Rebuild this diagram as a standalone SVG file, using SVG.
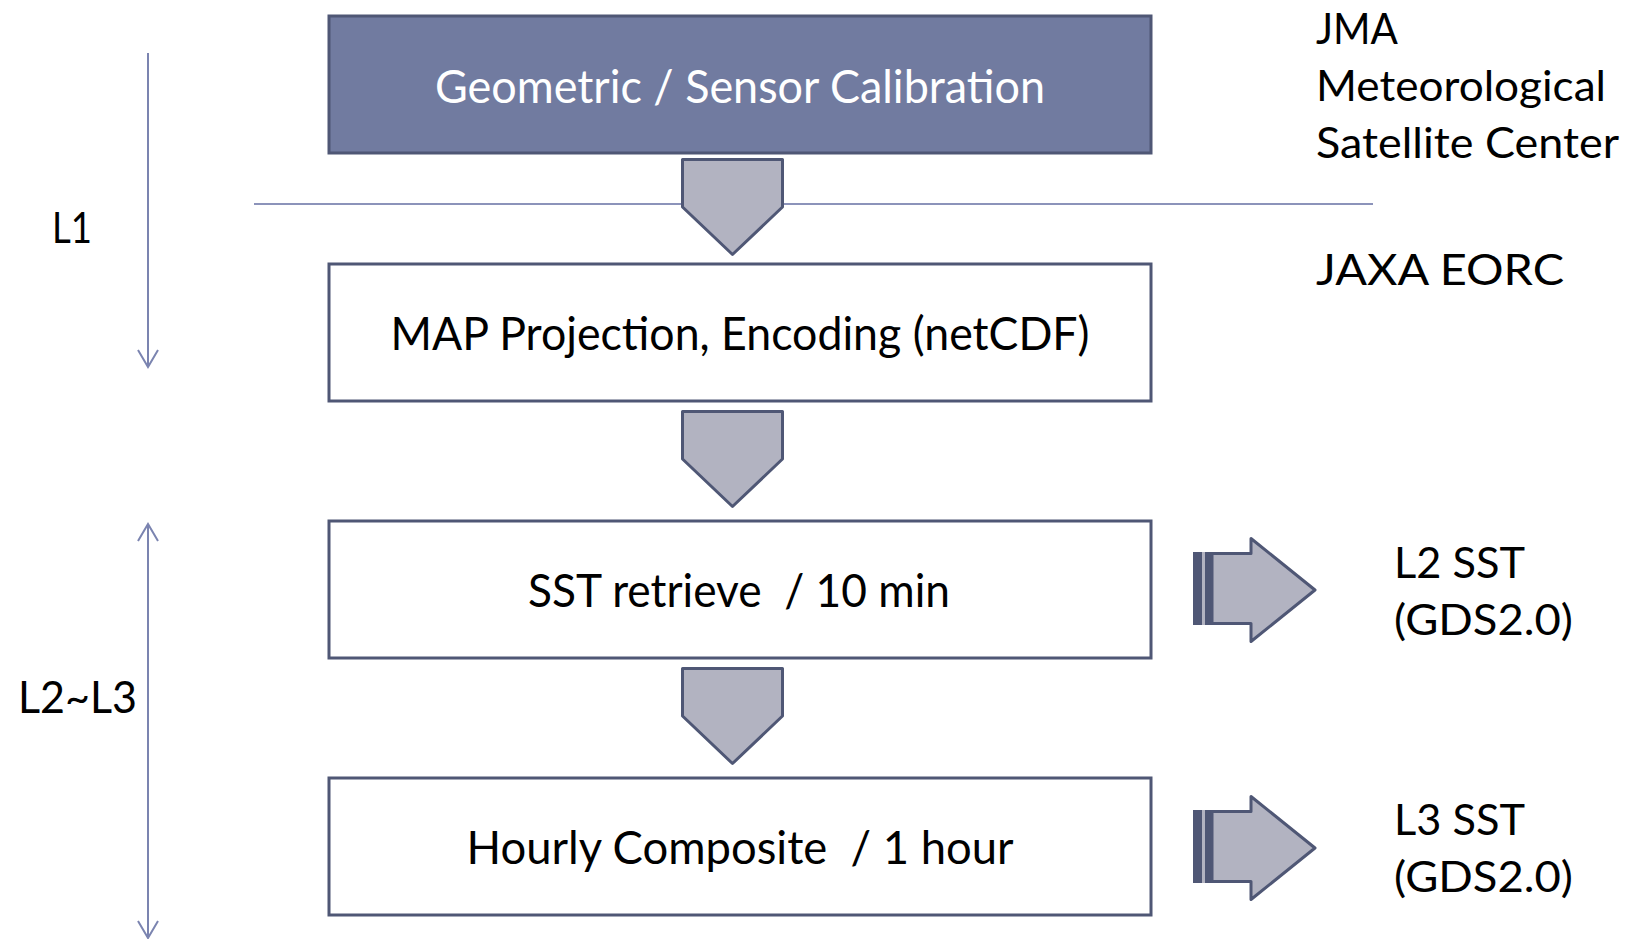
<svg xmlns="http://www.w3.org/2000/svg" width="1632" height="939" viewBox="0 0 1632 939">
<style>
.box{fill:#ffffff;stroke:#4f5775;stroke-width:3}
.box-dark{fill:#717ba0;stroke:#4f5775;stroke-width:3}
.t{font-family:Lato,"Open Sans","Liberation Sans",sans-serif;fill:#000;white-space:pre}
.bt{font-size:46px;text-anchor:middle}
.st{font-size:43px}
.chev{fill:#b2b3c1;stroke:#4f5775;stroke-width:3;stroke-linejoin:round}
.sep{stroke:#8c93ba;stroke-width:2;fill:none}
.vline{stroke:#7b84b0;stroke-width:2;fill:none}
.stripe{fill:#4f5775}
</style>
<defs>
<g id="striped">
<rect x="1193" y="552" width="20" height="73" fill="#b2b3c1"/>
<rect class="stripe" x="1193" y="552" width="9" height="73"/>
<rect class="stripe" x="1205" y="552" width="8" height="73"/>
<polygon class="chev" points="1212,553.5 1251,553.5 1251,538.5 1315,590 1251,641.5 1251,623.5 1212,623.5" stroke-linejoin="miter"/>
</g>
</defs>

<g id="separator">
<line class="sep" x1="254" y1="204" x2="1373" y2="204"/>
</g>

<g id="connectors">
<polygon class="chev" points="682.5,159.5 782.5,159.5 782.5,207 732.5,254.5 682.5,207"/>
<polygon class="chev" points="682.5,411.5 782.5,411.5 782.5,459 732.5,506.5 682.5,459"/>
<polygon class="chev" points="682.5,668.5 782.5,668.5 782.5,716 732.5,763.5 682.5,716"/>
<use href="#striped"/>
<use href="#striped" transform="translate(0,258)"/>
<line class="vline" x1="148" y1="53" x2="148" y2="366"/>
<polyline class="vline" points="138,350 148,367 158,350"/>
<line class="vline" x1="148" y1="525" x2="148" y2="938"/>
<polyline class="vline" points="138,541 148,524 158,541"/>
<polyline class="vline" points="138,921 148,938 158,921"/>
</g>

<g id="node-calibration">
<rect class="box-dark" x="329" y="16" width="822" height="137"/>
<text class="t bt" x="740" y="103" style="fill:#ffffff" textLength="610" lengthAdjust="spacingAndGlyphs">Geometric / Sensor Calibration</text>
</g>
<g id="node-map">
<rect class="box" x="329" y="264" width="822" height="137"/>
<text class="t bt" x="740" y="350" textLength="699" lengthAdjust="spacingAndGlyphs">MAP Projection, Encoding (netCDF)</text>
</g>
<g id="node-sst">
<rect class="box" x="329" y="521" width="822" height="137"/>
<text class="t bt" x="739" y="607" textLength="422" lengthAdjust="spacingAndGlyphs">SST retrieve  / 10 min</text>
</g>
<g id="node-hourly">
<rect class="box" x="329" y="778" width="822" height="137"/>
<text class="t bt" x="740" y="864" textLength="547" lengthAdjust="spacingAndGlyphs">Hourly Composite  / 1 hour</text>
</g>

<g id="label-jma">
<text class="t st" x="1316" y="44" textLength="82" lengthAdjust="spacingAndGlyphs">JMA</text>
<text class="t st" x="1316" y="101" textLength="290" lengthAdjust="spacingAndGlyphs">Meteorological</text>
<text class="t st" x="1316" y="158" textLength="303" lengthAdjust="spacingAndGlyphs">Satellite Center</text>
</g>
<g id="label-jaxa">
<text class="t st" x="1316" y="285" textLength="248" lengthAdjust="spacingAndGlyphs">JAXA EORC</text>
</g>
<g id="label-l2sst">
<text class="t st" x="1394" y="578" textLength="131" lengthAdjust="spacingAndGlyphs">L2 SST</text>
<text class="t st" x="1394" y="635" textLength="179" lengthAdjust="spacingAndGlyphs">(GDS2.0)</text>
</g>
<g id="label-l3sst">
<text class="t st" x="1394" y="835" textLength="131" lengthAdjust="spacingAndGlyphs">L3 SST</text>
<text class="t st" x="1394" y="892" textLength="179" lengthAdjust="spacingAndGlyphs">(GDS2.0)</text>
</g>
<g id="label-l1">
<text class="t st" x="52" y="243" style="font-size:42px" textLength="40" lengthAdjust="spacingAndGlyphs">L1</text>
</g>
<g id="label-l2l3">
<text class="t st" x="18" y="713" style="font-size:44px" textLength="119" lengthAdjust="spacingAndGlyphs">L2~L3</text>
</g>
</svg>
